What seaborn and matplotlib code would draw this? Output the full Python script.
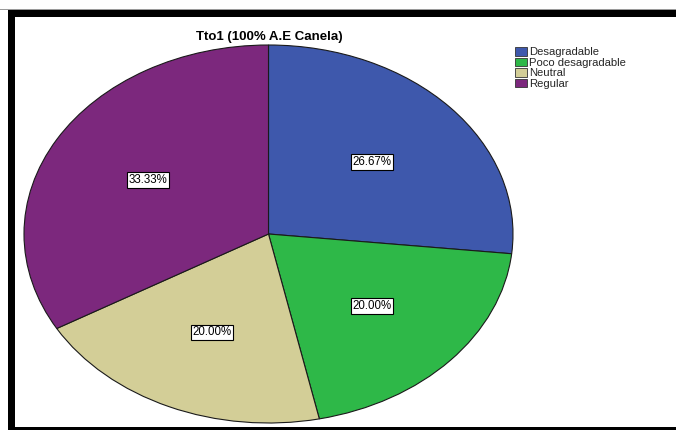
import matplotlib
matplotlib.use("Agg")
import matplotlib.pyplot as plt
from matplotlib.patches import Rectangle
import seaborn as sns

# Responses for treatment 1 (counts of panelists)
categories = ["Desagradable", "Poco desagradable", "Neutral", "Regular"]
counts = [4, 3, 3, 5]
colors = ["#3E58AC", "#2EB848", "#D3CE97", "#7C287D"]
title = "Tto1 (100% A.E Canela)"

sns.set_theme(style="white")
plt.rcParams["font.family"] = ["Liberation Sans", "DejaVu Sans"]

fig = plt.figure(figsize=(6.76, 4.32), dpi=100)
fig.patch.set_facecolor("white")

W, H = 676, 432
# pie axes occupy the elliptical region; aspect left free so the pie stretches
ax = fig.add_axes([24 / W, (H - 423) / H, 489 / W, 378 / H])
palette = sns.color_palette(colors)
wedges, texts, autotexts = ax.pie(
    counts,
    colors=palette,
    startangle=90,
    counterclock=False,
    autopct="%.2f%%",
    pctdistance=0.57,
    radius=1.0,
    wedgeprops=dict(edgecolor="#1a1a1a", linewidth=0.8),
    textprops=dict(fontsize=8.3, color="black"),
)
ax.set_aspect("auto")
ax.set_xlim(-1.0, 1.0)
ax.set_ylim(-1.0, 1.0)
ax.axis("off")

for t in autotexts:
    t.set_bbox(dict(boxstyle="square,pad=0.15", facecolor="white",
                    edgecolor="black", linewidth=0.8))

fig.text(269 / W, 1 - 37 / H, title, ha="center", va="center",
         fontsize=9.5, fontweight="bold", color="black")

handles = [Rectangle((0, 0), 1, 1, facecolor=c, edgecolor="#333333", linewidth=0.6)
           for c in palette]
fig.legend(handles, categories, loc="upper left",
           bbox_to_anchor=(513 / W, 1 - 45 / H), frameon=False,
           fontsize=8.1, handlelength=1.0, handleheight=0.8,
           handletextpad=0.25, labelspacing=0.02, borderpad=0.2,
           borderaxespad=0)

# outer frame
black = "black"
fig.add_artist(Rectangle((8 / W, 1 - 17 / H), 1 - 8 / W, 7 / H,
                         transform=fig.transFigure, facecolor=black,
                         edgecolor="none"))
fig.add_artist(Rectangle((8 / W, 1 - 430 / H), 7 / W, 420 / H,
                         transform=fig.transFigure, facecolor=black,
                         edgecolor="none"))
fig.add_artist(Rectangle((8 / W, 1 - 430 / H), 1 - 8 / W, 3 / H,
                         transform=fig.transFigure, facecolor=black,
                         edgecolor="none"))
fig.add_artist(Rectangle((0, 1 - 10 / H), 1, 1 / H,
                         transform=fig.transFigure, facecolor="#9a9a9a",
                         edgecolor="none"))

fig.savefig("out.png", dpi=100, facecolor="white")
